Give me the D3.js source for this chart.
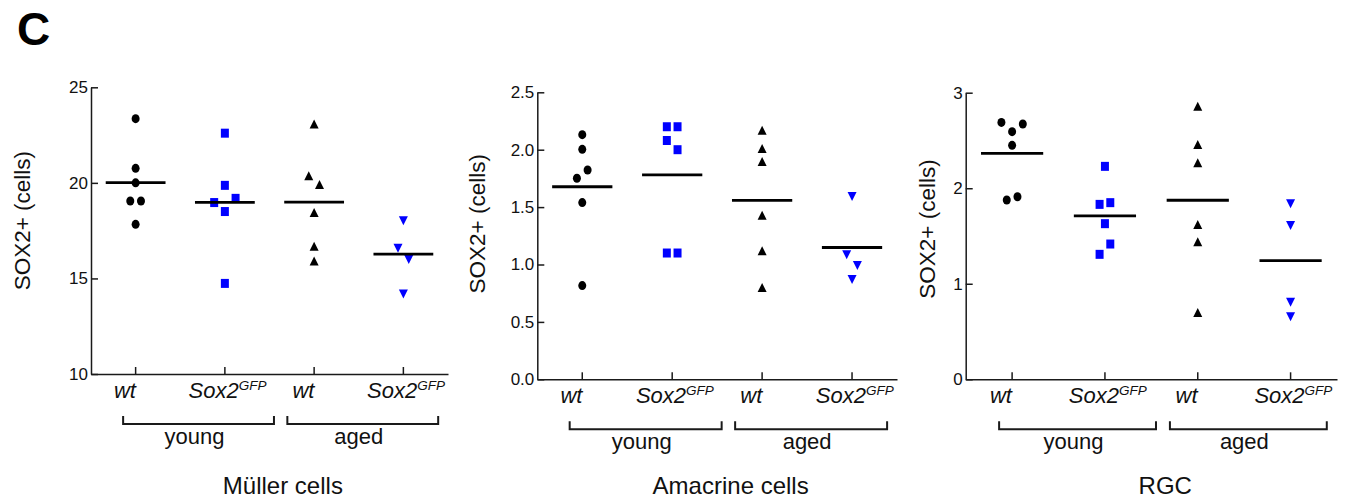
<!DOCTYPE html>
<html>
<head>
<meta charset="utf-8">
<script src="https://cdn.jsdelivr.net/npm/d3@7"></script>
<style>
body { margin: 0; background: #fff; }
svg text { font-family: "Liberation Sans", Arial, sans-serif; fill: #111; }
</style>
</head>
<body>
<div id="chart"></div>
<script>
(function() {

// categories
var genotypes = ["wt", "Sox2", "wt", "Sox2"];
var ageGroups = ["young", "aged"];
var cellTypes = ["Müller cells", "Amacrine cells", "RGC"];
var yTitle = "SOX2+ (cells)";

// SOX2+ counts (young wt, young Sox2GFP, aged wt, aged Sox2GFP)
var mullerWtYoung   = [23.36, 20.76, 20.0, 19.05, 19.05, 17.83];
var mullerSoxYoung  = [22.6, 19.87, 18.5, 18.97, 19.19, 14.74];
var mullerWtAged    = [23.0, 20.29, 19.84, 18.37, 16.61, 15.84];
var mullerSoxAged   = [18.09, 16.66, 16.07, 14.27];

var amacrineWtYoung  = [2.131, 2.003, 1.751, 1.823, 1.539, 0.816];
var amacrineSoxYoung = [2.2, 2.2, 2.08, 2.0, 1.1, 1.1];
var amacrineWtAged   = [2.157, 1.998, 1.884, 1.417, 1.106, 0.787];
var amacrineSoxAged  = [1.606, 1.098, 1.005, 0.883];

var rgcWtYoung  = [2.592, 2.689, 2.672, 2.449, 1.877, 1.911];
var rgcSoxYoung = [2.229, 1.831, 1.849, 1.629, 1.308, 1.416];
var rgcWtAged   = [2.843, 2.442, 2.25, 1.604, 1.423, 0.684];
var rgcSoxAged  = [1.852, 1.625, 0.823, 0.670];

// axes
var mullerDomain = [10, 25], mullerTicks = [10, 15, 20, 25];
var amacrineDomain = [0, 2.5], amacrineTicks = [0, 0.5, 1, 1.5, 2, 2.5];
var rgcDomain = [0, 3], rgcTicks = [0, 1, 2, 3];

var panels = [
  { title: cellTypes[0], groups: [mullerWtYoung, mullerSoxYoung, mullerWtAged, mullerSoxAged],
    domain: mullerDomain, ticks: mullerTicks, fmt: d3.format("d"),
    left: 91, right: 448, top: 87.3, bottom: 374, ylabX: 69, ylabDy: -10 },
  { title: cellTypes[1], groups: [amacrineWtYoung, amacrineSoxYoung, amacrineWtAged, amacrineSoxAged],
    domain: amacrineDomain, ticks: amacrineTicks, fmt: d3.format(".1f"),
    left: 537.3, right: 897, top: 92.3, bottom: 379.3, ylabX: 60.6, ylabDy: -12 },
  { title: cellTypes[2], groups: [rgcWtYoung, rgcSoxYoung, rgcWtAged, rgcSoxAged],
    domain: rgcDomain, ticks: rgcTicks, fmt: d3.format("d"),
    left: 965.7, right: 1337, top: 92.7, bottom: 379.3, ylabX: 39, ylabDy: -7 }
];

var colors = ["#000", "#0000ff", "#000", "#0000ff"];
var ink = "#1a1a1a";

var svg = d3.select("#chart").append("svg")
    .attr("width", 1345)
    .attr("height", 499);

svg.append("text")
    .attr("x", 17)
    .attr("y", 45)
    .style("font-size", "46px")
    .style("font-weight", "bold")
    .style("fill", "#000")
    .text("C");

// marker shapes (slightly taller than wide, like the source)
function marker(k) {
  var w = 8, h = 9;
  if (k === 0) return "M" + (-w / 2) + ",0a" + (w / 2) + "," + (h / 2) + " 0 1,0 " + w + ",0a" + (w / 2) + "," + (h / 2) + " 0 1,0 " + (-w) + ",0Z";
  if (k === 1) return "M" + (-w / 2) + "," + (-h / 2) + "h" + w + "v" + h + "h" + (-w) + "Z";
  if (k === 2) return "M0," + (-2 * h / 3) + "L" + (w / 2 + 0.5) + "," + (h / 3) + "L" + (-w / 2 - 0.5) + "," + (h / 3) + "Z";
  return "M0," + (2 * h / 3) + "L" + (w / 2 + 0.5) + "," + (-h / 3) + "L" + (-w / 2 - 0.5) + "," + (-h / 3) + "Z";
}

// points that sit too close vertically are spread sideways, centred on the group
function spread(values, y, gap, step) {
  var idx = d3.range(values.length).sort(function(a, b) { return values[b] - values[a]; });
  var rows = [], row = [idx[0]];
  for (var k = 1; k < idx.length; k++) {
    if (Math.abs(y(values[idx[k]]) - y(values[idx[k - 1]])) < gap) row.push(idx[k]);
    else { rows.push(row); row = [idx[k]]; }
  }
  rows.push(row);
  var off = [];
  rows.forEach(function(r) {
    r.sort(d3.ascending);
    var n = r.length;
    r.forEach(function(i, j) {
      if (n % 2) off[i] = j === 0 ? 0 : (j % 2 ? -1 : 1) * Math.ceil(j / 2) * step;
      else off[i] = (j - (n - 1) / 2) * step;
    });
  });
  return off;
}

panels.forEach(function(p) {
  var g = svg.append("g");

  var y = d3.scaleLinear().domain(p.domain).range([p.bottom, p.top]);
  var x = d3.scaleBand().domain(d3.range(4)).range([p.left, p.right]);
  var u = d3.scaleLinear().domain([0, 4]).range([p.left, p.right]);
  var bw = x.bandwidth();

  // y axis
  var ya = g.append("g")
      .attr("transform", "translate(" + p.left + ",0)")
      .call(d3.axisLeft(y).tickValues(p.ticks).tickFormat(p.fmt)
        .tickSizeInner(-7).tickSizeOuter(0).tickPadding(3));
  ya.selectAll("path, line").attr("stroke", ink).attr("stroke-width", 1.5);
  ya.selectAll("text").style("font-size", "17px").attr("fill", ink);

  // x axis
  var xa = g.append("g")
      .attr("transform", "translate(0," + p.bottom + ")")
      .call(d3.axisBottom(x).tickFormat("").tickSizeInner(-7).tickSizeOuter(0));
  xa.selectAll("path, line").attr("stroke", ink).attr("stroke-width", 1.5);

  // y title
  g.append("text")
      .attr("transform", "translate(" + (p.left - p.ylabX) + "," + ((p.top + p.bottom) / 2 + p.ylabDy) + ") rotate(-90)")
      .attr("text-anchor", "middle")
      .attr("dy", "0.35em")
      .style("font-size", "22.5px")
      .text(yTitle);

  // points and means
  p.groups.forEach(function(vals, k) {
    var cx = x(k) + bw / 2;
    var off = spread(vals, y, 12, 10.7);
    g.selectAll(".pt" + k)
      .data(vals)
      .enter().append("path")
        .attr("d", marker(k))
        .attr("transform", function(d, i) { return "translate(" + (cx + off[i]) + "," + y(d) + ")"; })
        .attr("fill", colors[k]);

    var m = d3.mean(vals);
    g.append("line")
        .attr("x1", cx - bw * 0.335).attr("x2", cx + bw * 0.335)
        .attr("y1", y(m)).attr("y2", y(m))
        .attr("stroke", "#000")
        .attr("stroke-width", 2.8);
  });

  // genotype labels
  genotypes.forEach(function(gt, k) {
    var t = g.append("text")
        .attr("x", u(k + (gt === "wt" ? 0.38 : 0.53)))
        .attr("y", p.bottom + 24)
        .attr("text-anchor", "middle")
        .style("font-size", "22px")
        .style("font-style", "italic");
    t.append("tspan").text(gt);
    if (gt !== "wt") {
      t.append("tspan").attr("dy", -8).style("font-size", "13.5px").text("GFP");
    }
  });

  // age brackets
  var spans = [[0.36, 2.05], [2.2, 3.89]];
  ageGroups.forEach(function(a, k) {
    var x0 = u(spans[k][0]), x1 = u(spans[k][1]), by = p.bottom + 50;
    g.append("path")
        .attr("d", "M" + x0 + "," + (by - 8) + "V" + by + "H" + x1 + "V" + (by - 8))
        .attr("fill", "none")
        .attr("stroke", ink)
        .attr("stroke-width", 2);
    g.append("text")
        .attr("x", (x0 + x1) / 2 - 4)
        .attr("y", p.bottom + 70)
        .attr("text-anchor", "middle")
        .style("font-size", "22px")
        .text(a);
  });

  g.append("text")
      .attr("x", u(2.15))
      .attr("y", Math.min(p.bottom + 120, 494))
      .attr("text-anchor", "middle")
      .style("font-size", "24px")
      .text(p.title);
});

})();
</script>
</body>
</html>
